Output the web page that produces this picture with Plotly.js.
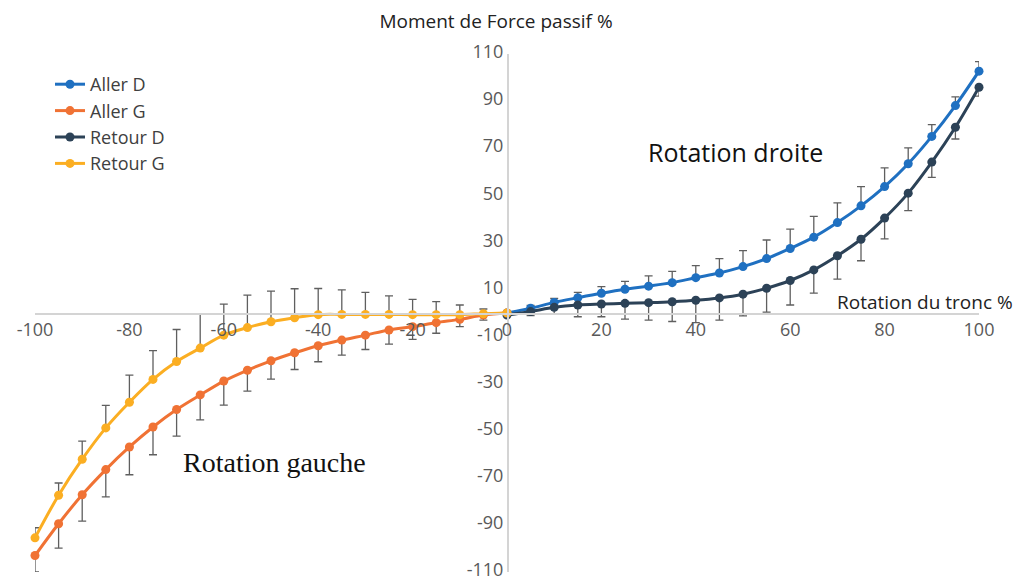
<!DOCTYPE html>
<html>
<head>
<meta charset="utf-8">
<script src="https://cdn.plot.ly/plotly-3.0.1.min.js"></script>
<style>html,body{margin:0;padding:0;background:#fff;}#chart{width:1013px;height:581px;}</style>
</head>
<body>
<div id="chart"></div>
<script>
// Right side (rotation droite) sample positions, % of trunk rotation
const xDroite = [0, 5, 10, 15, 20, 25, 30, 35, 40, 45, 50, 55, 60, 65, 70, 75, 80, 85, 90, 95, 100];
const allerD = [0, 2.0, 4.5, 6.5, 8.4, 10.1, 11.4, 12.9, 15.0, 17.0, 19.7, 23.1, 27.4, 32.2, 38.4, 45.5, 53.7, 63.4, 75.0, 88.1, 102.7];
const allerDErrPlus = [0, 1.2, 1.7, 2.3, 2.8, 3.3, 4.4, 4.8, 5.1, 6.1, 6.8, 7.9, 8.2, 8.8, 8.4, 8.2, 7.9, 6.7, 5.0, 3.7, 4.1];
const retourD = [-0.9, 0.6, 2.4, 3.4, 3.8, 4.1, 4.4, 4.8, 5.4, 6.4, 8.0, 10.5, 13.8, 18.3, 24.3, 31.3, 40.3, 50.9, 64.1, 78.9, 95.9];
const retourDErrMinus = [0, 1.7, 3.0, 5.0, 5.4, 6.7, 7.4, 8.4, 9.5, 9.4, 9.2, 10.1, 10.4, 9.9, 9.9, 9.1, 8.8, 7.4, 6.5, 5.0, 3.8];

// Left side (rotation gauche)
const xGauche = [-100, -95, -90, -85, -80, -75, -70, -65, -60, -55, -50, -45, -40, -35, -30, -25, -20, -15, -10, -5, 0];
const allerG = [-103, -89.5, -77.2, -66.5, -56.9, -48.4, -41.0, -34.8, -28.9, -24.3, -20.3, -16.9, -13.9, -11.5, -9.4, -7.2, -5.8, -4.1, -2.7, -0.9, 0];
const allerGErrMinus = [7, 10.4, 11.2, 11.6, 11.8, 11.8, 11.3, 10.6, 10.2, 8.9, 7.8, 7.1, 6.8, 6.4, 6.1, 6.0, 5.4, 4.5, 3.1, 2.1, 0];
const retourG = [-95.5, -77.4, -62.1, -48.8, -37.9, -28.2, -20.6, -14.9, -9.4, -6.2, -3.7, -2.0, -0.7, -0.6, -0.6, -0.6, -0.7, -0.7, -0.7, -0.3, 0];
const retourGErrPlus = [4.3, 5.2, 7.7, 9.6, 11.5, 12.2, 13.6, 14.6, 13.2, 13.8, 13.0, 12.3, 11.1, 10.4, 9.4, 7.9, 6.5, 5.5, 4.1, 2.0, 0];

const seriesNames = ['Aller D', 'Aller G', 'Retour D', 'Retour G'];
const xTicks = [-100, -80, -60, -40, -20, 0, 20, 40, 60, 80, 100];
const yTicks = [-110, -90, -70, -50, -30, -10, 10, 30, 50, 70, 90, 110];

const colors = ['#1f70c1', '#f07234', '#2c4257', '#fbae22'];
const errColor = '#5f5f5f';
const zeros = xDroite.map(() => 0);

function mk(name, x, y, plus, minus, color) {
  return {
    type: 'scatter', mode: 'lines+markers', name: name, x: x, y: y,
    line: {color: color, width: 3, shape: 'spline', smoothing: 1},
    marker: {color: color, size: 9, symbol: 'circle'},
    cliponaxis: false,
    error_y: {type: 'data', symmetric: false, array: plus, arrayminus: minus,
              color: errColor, thickness: 1.3, width: 4}
  };
}

const traces = [
  mk(seriesNames[0], xDroite, allerD, allerDErrPlus, zeros, colors[0]),
  mk(seriesNames[1], xGauche, allerG, zeros, allerGErrMinus, colors[1]),
  mk(seriesNames[2], xDroite, retourD, zeros, retourDErrMinus, colors[2]),
  mk(seriesNames[3], xGauche, retourG, retourGErrPlus, zeros, colors[3])
];

const font = 'Open Sans, Noto Sans, sans-serif';
const tickFont = {family: font, size: 18, color: '#595959'};
const layout = {
  width: 1013, height: 581,
  margin: {l: 35, r: 34, t: 54, b: 9, autoexpand: false},
  paper_bgcolor: '#ffffff', plot_bgcolor: '#ffffff',
  showlegend: true,
  font: {family: font, color: '#595959', size: 16},
  title: {text: 'Moment de Force passif %', font: {family: font, size: 19, color: '#222222'},
          x: 496 / 1013, xanchor: 'center', xref: 'container', y: 1 - 21 / 581, yanchor: 'middle', yref: 'container'},
  xaxis: {range: [-100, 100], domain: [0, 1], anchor: 'free', position: 0.5,
          showline: true, linecolor: '#d4d4d4', linewidth: 1.5, showgrid: false, zeroline: false,
          ticks: '', tickvals: xTicks, ticktext: xTicks.map(String), automargin: false,
          ticklabeloverflow: 'allow', tickfont: tickFont},
  yaxis: {range: [-110.001, 110.001], domain: [0, 1], anchor: 'free', position: 0.5,
          showline: true, linecolor: '#d4d4d4', linewidth: 1.5, showgrid: false, zeroline: false,
          ticks: '', tickvals: yTicks, ticktext: yTicks.map(String), automargin: false,
          ticklabeloverflow: 'allow', ticklabelshift: -2, tickfont: tickFont},
  legend: {xref: 'container', yref: 'container', x: 50 / 1013, y: 1 - 66 / 581,
           xanchor: 'left', yanchor: 'top', bgcolor: 'rgba(0,0,0,0)',
           font: {family: font, size: 18, color: '#404040'}, tracegroupgap: 0},
  annotations: [
    {text: 'Rotation droite', x: 735, y: 152, showarrow: false,
     font: {family: font, size: 25, color: '#111111'}},
    {text: 'Rotation gauche', x: 274, y: 462, showarrow: false,
     font: {family: 'Liberation Serif, serif', size: 28, color: '#111111'}},
    {text: 'Rotation du tronc %', x: 835, y: 302, showarrow: false, xanchor: 'left',
     font: {family: font, size: 19, color: '#222222'}}
  ]
};
// convert annotation pixel positions into data coordinates via the axes' linear scale
const plotL = 35, plotW = 1013 - 35 - 34, plotT = 54, plotH = 581 - 54 - 9;
layout.annotations.forEach(a => {
  const px = a.x, py = a.y;
  a.xref = 'x'; a.yref = 'y';
  a.x = -100 + (px - plotL) / plotW * 200;
  a.y = 110 - (py - plotT) / plotH * 220;
});

Plotly.newPlot('chart', traces, layout, {displayModeBar: false, staticPlot: true});
</script>
</body>
</html>
